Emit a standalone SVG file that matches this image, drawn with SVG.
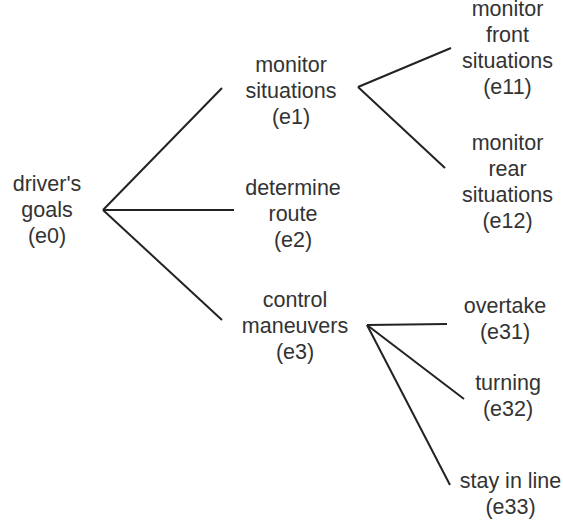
<svg xmlns="http://www.w3.org/2000/svg" width="563" height="526" viewBox="0 0 563 526">
  <style>
    .lbl { font-family: "Liberation Sans", Arial, sans-serif; font-size: 21.5px; fill: #333; text-anchor: middle; }
    .edge { stroke: #222; stroke-width: 2; fill: none; }
  </style>
  <rect width="563" height="526" fill="#fff"/>
  <g id="connectors">
    <line class="edge" x1="103" y1="210" x2="222" y2="88"/>
    <line class="edge" x1="103" y1="210" x2="234" y2="210"/>
    <line class="edge" x1="103" y1="210" x2="222" y2="320"/>
    <line class="edge" x1="358" y1="87" x2="451" y2="48"/>
    <line class="edge" x1="358" y1="87" x2="445" y2="168"/>
    <line class="edge" x1="367" y1="325" x2="447" y2="324"/>
    <line class="edge" x1="367" y1="325" x2="464" y2="399"/>
    <line class="edge" x1="367" y1="325" x2="450" y2="485"/>
  </g>
  <g id="e0">
    <text class="lbl" x="47" y="191">driver's</text>
    <text class="lbl" x="47" y="217">goals</text>
    <text class="lbl" x="47" y="243">(e0)</text>
  </g>
  <g id="e1">
    <text class="lbl" x="291" y="72">monitor</text>
    <text class="lbl" x="291" y="98">situations</text>
    <text class="lbl" x="291" y="124">(e1)</text>
  </g>
  <g id="e2">
    <text class="lbl" x="293" y="195">determine</text>
    <text class="lbl" x="293" y="221">route</text>
    <text class="lbl" x="293" y="247">(e2)</text>
  </g>
  <g id="e3">
    <text class="lbl" x="295" y="307">control</text>
    <text class="lbl" x="295" y="333">maneuvers</text>
    <text class="lbl" x="295" y="359">(e3)</text>
  </g>
  <g id="e11">
    <text class="lbl" x="507.5" y="16">monitor</text>
    <text class="lbl" x="507.5" y="42">front</text>
    <text class="lbl" x="507.5" y="68">situations</text>
    <text class="lbl" x="507.5" y="94">(e11)</text>
  </g>
  <g id="e12">
    <text class="lbl" x="507.5" y="150">monitor</text>
    <text class="lbl" x="507.5" y="176">rear</text>
    <text class="lbl" x="507.5" y="202">situations</text>
    <text class="lbl" x="507.5" y="228">(e12)</text>
  </g>
  <g id="e31">
    <text class="lbl" x="505" y="313">overtake</text>
    <text class="lbl" x="505" y="339">(e31)</text>
  </g>
  <g id="e32">
    <text class="lbl" x="508" y="390">turning</text>
    <text class="lbl" x="508" y="416">(e32)</text>
  </g>
  <g id="e33">
    <text class="lbl" x="510.5" y="488">stay in line</text>
    <text class="lbl" x="510.5" y="514">(e33)</text>
  </g>
</svg>
